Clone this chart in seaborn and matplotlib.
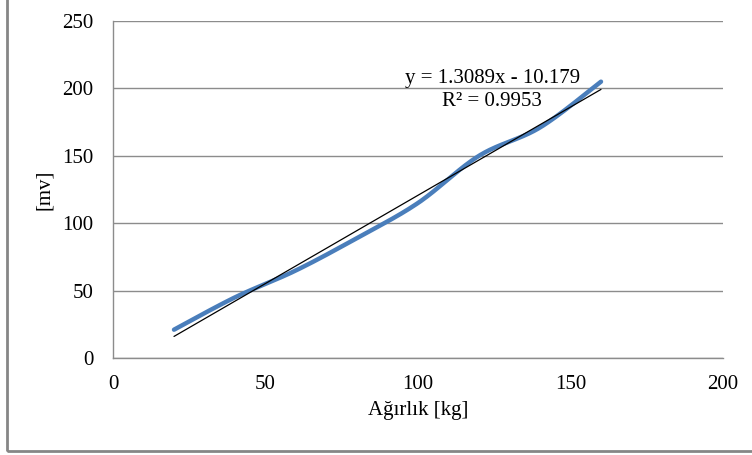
import numpy as np
import pandas as pd
import matplotlib
matplotlib.use("Agg")
import matplotlib.pyplot as plt
import seaborn as sns
from matplotlib.patches import Rectangle

# ---- data ----
weights = [20, 40, 60, 80, 100, 120, 140, 160]
millivolts = [21, 45, 65, 89, 115, 150, 171, 205]
x_ticks = [0, 50, 100, 150, 200]
y_ticks = [0, 50, 100, 150, 200, 250]
equation_text = "y = 1.3089x - 10.179"
r2_text = "R² = 0.9953"
x_label = "Ağırlık [kg]"
y_label = "[mv]"

sns.set_theme(style="white")
plt.rcParams['font.family'] = ['Liberation Serif', 'DejaVu Serif']

FS = 15


def smooth(xs, ys, n=40):
    """Bezier smoothing of the line through the data points (like Excel's smoothed line)."""
    pts = np.column_stack([xs, ys]).astype(float)
    P = np.vstack([pts[0], pts, pts[-1]])
    out = []
    for i in range(1, len(P) - 2):
        p0, p1, p2, p3 = P[i - 1], P[i], P[i + 1], P[i + 2]
        c1 = p1 + (p2 - p0) / 6
        c2 = p2 - (p3 - p1) / 6
        t = np.linspace(0, 1, n, endpoint=(i == len(P) - 3))[:, None]
        seg = (1 - t) ** 3 * p1 + 3 * (1 - t) ** 2 * t * c1 + 3 * (1 - t) * t ** 2 * c2 + t ** 3 * p2
        out.append(seg)
    return np.vstack(out)


df = pd.DataFrame({"w": weights, "mv": millivolts})
sm = smooth(weights, millivolts)
df_s = pd.DataFrame({"w": sm[:, 0], "mv": sm[:, 1], "order": np.arange(len(sm))})

fig = plt.figure(figsize=(7.52, 4.55), dpi=100)
ax = fig.add_axes([113 / 752, 1 - 358 / 455, 610 / 752, 337 / 455])

sns.lineplot(data=df_s, x="w", y="mv", sort=False, estimator=None,
             color="#4a7ebb", lw=3.2, ax=ax, zorder=3)
sns.regplot(data=df, x="w", y="mv", scatter=False, ci=None, truncate=True,
            line_kws=dict(color="black", lw=0.9, zorder=4), ax=ax)

ax.set_xlim(0, 200)
ax.set_ylim(0, 250)
ax.set_xticks(x_ticks)
ax.set_yticks(y_ticks)
ax.tick_params(axis="both", length=0, labelsize=FS, colors="black")
ax.tick_params(axis="y", pad=14)
ax.tick_params(axis="x", pad=12)

ax.yaxis.grid(True, color="#8c8c8c", lw=1)
ax.xaxis.grid(False)
for s in ["top", "right"]:
    ax.spines[s].set_visible(False)
for s in ["left", "bottom"]:
    ax.spines[s].set_color("#8c8c8c")
    ax.spines[s].set_linewidth(1)

ax.set_xlabel(x_label, fontsize=FS, color="black")
ax.set_ylabel(y_label, fontsize=FS, color="black")
ax.xaxis.label.set_va("center")
ax.yaxis.label.set_va("center")
ax.xaxis.set_label_coords(0.5, (358 - 410) / 337)
ax.yaxis.set_label_coords((45 - 113) / 610, 0.5)

ax.text(124.3, 207.5, equation_text, ha="center", va="center", fontsize=FS, color="black", zorder=5)
ax.text(124.3, 190.0, r2_text, ha="center", va="center", fontsize=FS, color="black", zorder=5)

fig.patches.append(Rectangle((7 / 752, 1 - 451 / 455), 2, 2, transform=fig.transFigure,
                             fill=False, edgecolor="#868686", lw=2, clip_on=False))

fig.savefig("out.png", dpi=100, facecolor="white")
